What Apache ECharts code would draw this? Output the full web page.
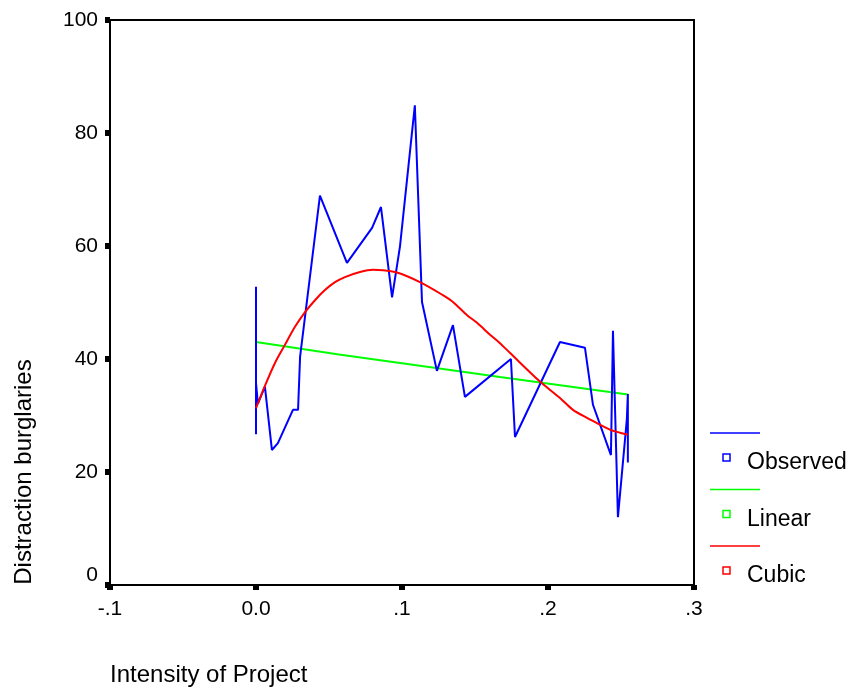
<!DOCTYPE html>
<html>
<head>
<meta charset="utf-8">
<script src="https://cdn.jsdelivr.net/npm/echarts@6/dist/echarts.min.js"></script>
<style>
html,body{margin:0;padding:0;background:#fff;}
#chart{width:848px;height:689px;}
</style>
</head>
<body>
<div id="chart"></div>
<script>
// ---- data ----
const xTickLabels = ['-.1', '0.0', '.1', '.2', '.3'];
const xTickValues = [-0.1, 0.0, 0.1, 0.2, 0.3];
const yTickValues = [0, 20, 40, 60, 80, 100];

const observedX = [0.0, 0.0, 0.0, 0.0013, 0.0061, 0.0109, 0.0150, 0.0253, 0.0288, 0.0302,
  0.0438, 0.0623, 0.0795, 0.0856, 0.0932, 0.0986, 0.1088, 0.1137, 0.1239, 0.1349, 0.1431,
  0.1746, 0.1774, 0.2082, 0.2253, 0.2308, 0.2431, 0.2445, 0.2479, 0.2540, 0.2547, 0.2547];
const observedY = [52.8, 26.7, 35.8, 32.1, 35.1, 23.9, 25.1, 31.0, 31.0, 40.4,
  68.9, 57.0, 63.2, 66.9, 50.9, 59.9, 84.9, 50.1, 37.9, 46.0, 33.3,
  40.0, 26.2, 43.0, 42.0, 31.9, 23.0, 45.0, 12.0, 29.3, 33.8, 21.7];

const linearX = [0.0, 0.0568, 0.1123, 0.1671, 0.2547];
const linearY = [43.0, 40.8, 38.8, 36.8, 33.7];

const cubicX = [0.0, 0.0062, 0.0130, 0.0198, 0.0267, 0.0336, 0.0404, 0.0472, 0.0541, 0.0609,
  0.0712, 0.0801, 0.0870, 0.0966, 0.1123, 0.1280, 0.1349, 0.1444, 0.1514, 0.1603, 0.1671,
  0.1739, 0.1945, 0.2082, 0.2171, 0.2267, 0.2424, 0.2547];
const cubicY = [31.3, 35.3, 39.3, 42.5, 45.7, 48.3, 50.4, 52.2, 53.6, 54.5,
  55.4, 55.8, 55.7, 55.3, 53.6, 51.3, 50.1, 47.8, 46.4, 44.3, 42.8,
  41.1, 36.0, 33.1, 31.0, 29.6, 27.5, 26.6];

const seriesNames = ['Observed', 'Linear', 'Cubic'];
const seriesColors = ['#0000ff', '#00ff00', '#ff0000'];

const zip = (xs, ys) => xs.map((x, i) => [x, ys[i]]);

const chart = echarts.init(document.getElementById('chart'), null, {renderer: 'canvas'});
const FONT = '"Liberation Sans", Arial, sans-serif';

// legend built as graphic: line on top, small square + label below
const legendGraphics = [];
seriesNames.forEach((name, i) => {
  const baseY = 433 + i * 56.5;
  legendGraphics.push({
    type: 'line', shape: {x1: 710, y1: baseY, x2: 760, y2: baseY},
    style: {stroke: seriesColors[i], lineWidth: 1.5}
  });
  legendGraphics.push({
    type: 'rect', shape: {x: 723, y: baseY + 21, width: 7, height: 7},
    style: {fill: '#fff', stroke: seriesColors[i], lineWidth: 1.5}
  });
  legendGraphics.push({
    type: 'text', x: 747, y: baseY + 30,
    style: {text: name, fill: '#000', font: '23px ' + FONT, textVerticalAlign: 'middle', verticalAlign: 'middle'}
  });
});

const option = {
  animation: false,
  backgroundColor: '#fff',
  grid: {left: 110, right: 154, top: 20, bottom: 104, show: true, borderColor: '#000', borderWidth: 2, backgroundColor: 'transparent'},
  xAxis: {
    type: 'value', min: -0.1, max: 0.3, interval: 0.1,
    splitLine: {show: false},
    axisLine: {show: true, onZero: false, lineStyle: {color: '#000', width: 2}},
    axisTick: {show: true, inside: false, length: 5, lineStyle: {color: '#000', width: 6}},
    axisLabel: {
      color: '#000', fontSize: 21, fontFamily: FONT, margin: 14,
      formatter: v => {
        const idx = xTickValues.findIndex(t => Math.abs(t - v) < 1e-9);
        return idx >= 0 ? xTickLabels[idx] : '';
      }
    }
  },
  yAxis: {
    type: 'value', min: 0, max: 100, interval: 20,
    splitLine: {show: false},
    axisLine: {show: true, onZero: false, lineStyle: {color: '#000', width: 2}},
    axisTick: {show: true, inside: false, length: 5, lineStyle: {color: '#000', width: 6}},
    axisLabel: {color: '#000', fontSize: 21, fontFamily: FONT, margin: 12,
      formatter: v => {
        if (!yTickValues.includes(v)) return '';
        return v === 0 ? '{zero|0}' : String(v);
      },
      rich: {zero: {fontSize: 21, fontFamily: FONT, color: '#000', padding: [0, 0, 20, 0]}}
    }
  },
  series: [
    {name: seriesNames[0], type: 'line', data: zip(observedX, observedY), showSymbol: false, symbol: 'none',
      lineStyle: {color: seriesColors[0], width: 2}, z: 3},
    {name: seriesNames[1], type: 'line', data: zip(linearX, linearY), showSymbol: false, symbol: 'none',
      lineStyle: {color: seriesColors[1], width: 2}, z: 2},
    {name: seriesNames[2], type: 'line', data: zip(cubicX, cubicY), showSymbol: false, symbol: 'none', smooth: 0.3,
      lineStyle: {color: seriesColors[2], width: 2}, z: 4}
  ],
  graphic: [
    {type: 'text', x: 110, y: 675,
      style: {text: 'Intensity of Project', fill: '#000', font: '24px ' + FONT, verticalAlign: 'middle', textVerticalAlign: 'middle'}},
    {type: 'text', x: 24, y: 472, rotation: Math.PI / 2,
      style: {text: 'Distraction burglaries', fill: '#000', font: '24px ' + FONT, align: 'center', textAlign: 'center', verticalAlign: 'middle', textVerticalAlign: 'middle'}}
  ].concat(legendGraphics)
};
chart.setOption(option);
</script>
</body>
</html>
